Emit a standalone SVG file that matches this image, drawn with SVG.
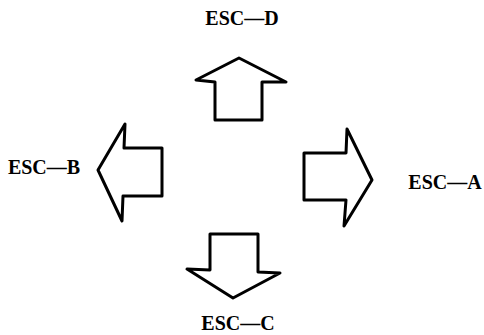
<svg xmlns="http://www.w3.org/2000/svg" width="484" height="335" viewBox="0 0 484 335">
<style>
.arrow{fill:#fff;stroke:#000;stroke-width:3;stroke-linejoin:round;stroke-linecap:round}
.lbl{font-family:"Liberation Serif","Times New Roman",serif;font-weight:bold;font-size:20px;fill:#000}
</style>
<rect width="484" height="335" fill="#fff"/>
<g id="connectors"></g>
<g id="up">
<polygon class="arrow" points="239,58 286,82 262,82 262,120 215,120 215,82 196,80"/>
<text class="lbl" x="242" y="25" text-anchor="middle">ESC—D</text>
</g>
<g id="left">
<polygon class="arrow" points="98,170 125,124 124,148 162,148 162,196 123,196 122,221"/>
<text class="lbl" x="44" y="174" text-anchor="middle">ESC—B</text>
</g>
<g id="right">
<polygon class="arrow" points="372,180 344,226 346,200 304,200 304,153 346,153 347,129"/>
<text class="lbl" x="445" y="189" text-anchor="middle">ESC—A</text>
</g>
<g id="down">
<polygon class="arrow" points="233,298 187,269 210,270 210,234 258,234 258,272 280,273"/>
<text class="lbl" x="238" y="330" text-anchor="middle">ESC—C</text>
</g>
</svg>
